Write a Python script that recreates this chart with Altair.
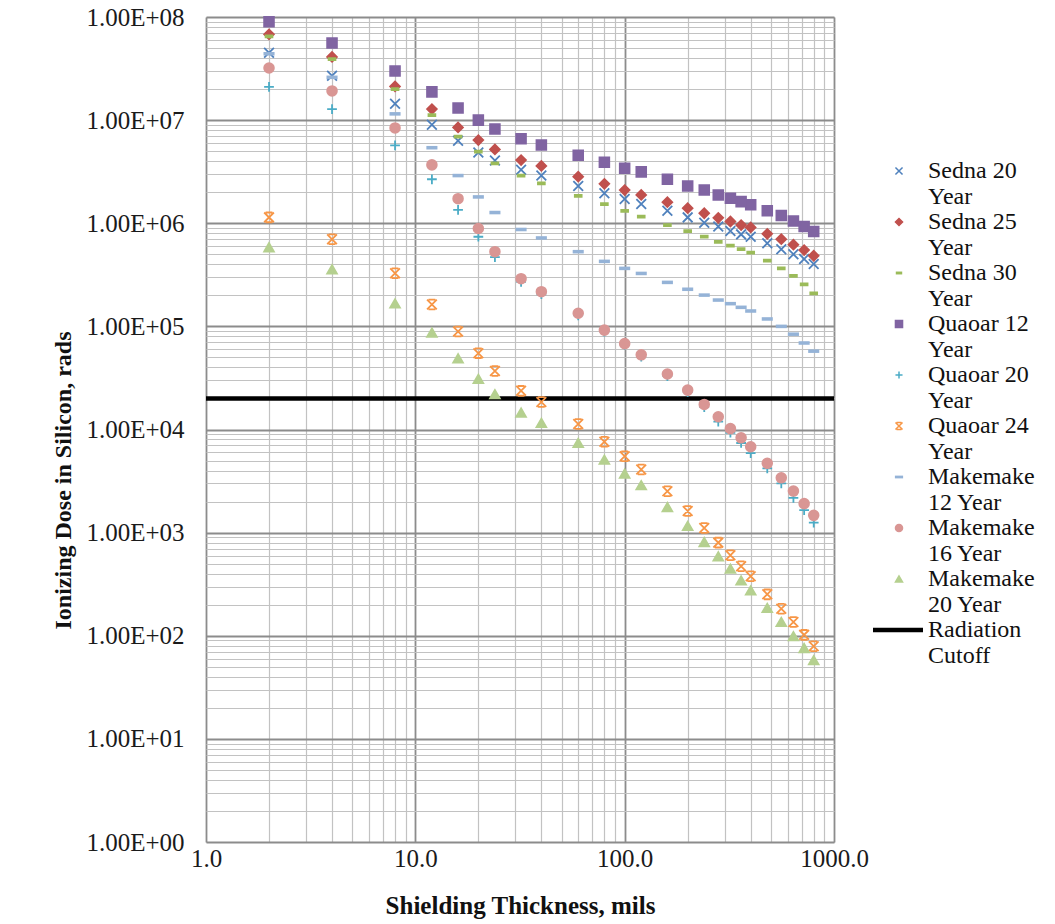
import altair as alt
import pandas as pd

# ---------------- data ----------------
thickness = [2, 4, 8, 12, 16, 20, 24, 32, 40, 60, 80, 100, 120, 160, 200,
             240, 280, 320, 360, 400, 480, 560, 640, 720, 800]

sedna_20 = [4.5e7, 2.7e7, 1.44e7, 9.0e6, 6.3e6, 4.85e6, 4.05e6, 3.3e6, 2.9e6, 2.3e6,
            1.95e6, 1.72e6, 1.54e6, 1.32e6, 1.14e6, 1.01e6, 9.3e5, 8.4e5, 7.8e5, 7.4e5,
            6.4e5, 5.6e5, 5.0e5, 4.5e5, 4.03e5]
sedna_25 = [6.8e7, 4.1e7, 2.12e7, 1.28e7, 8.5e6, 6.4e6, 5.2e6, 4.1e6, 3.6e6, 2.83e6,
            2.41e6, 2.1e6, 1.88e6, 1.6e6, 1.4e6, 1.25e6, 1.13e6, 1.04e6, 9.6e5, 9.1e5,
            7.9e5, 7.0e5, 6.2e5, 5.5e5, 4.84e5]
sedna_30 = [6.5e7, 3.9e7, 2.0e7, 1.12e7, 6.9e6, 4.95e6, 3.8e6, 2.9e6, 2.44e6, 1.84e6,
            1.53e6, 1.32e6, 1.16e6, 9.6e5, 8.4e5, 7.4e5, 6.6e5, 6.06e5, 5.6e5, 5.2e5,
            4.34e5, 3.66e5, 3.08e5, 2.56e5, 2.09e5]
quaoar_12 = [9.0e7, 5.6e7, 3.0e7, 1.88e7, 1.31e7, 1.0e7, 8.2e6, 6.6e6, 5.75e6, 4.56e6,
             3.9e6, 3.42e6, 3.15e6, 2.67e6, 2.3e6, 2.1e6, 1.88e6, 1.75e6, 1.62e6, 1.51e6,
             1.32e6, 1.19e6, 1.05e6, 9.3e5, 8.3e5]
quaoar_20 = [2.1e7, 1.28e7, 5.7e6, 2.67e6, 1.35e6, 7.4e5, 4.7e5, 2.7e5, 2.05e5, 1.28e5,
             8.9e4, 6.6e4, 5.1e4, 3.3e4, 2.3e4, 1.65e4, 1.19e4, 9.3e3, 7.4e3, 5.9e3,
             4.2e3, 3.0e3, 2.17e3, 1.65e3, 1.25e3]
quaoar_24 = [1.14e6, 7.0e5, 3.27e5, 1.63e5, 8.9e4, 5.5e4, 3.7e4, 2.37e4, 1.85e4, 1.13e4,
             7.6e3, 5.5e3, 4.1e3, 2.52e3, 1.62e3, 1.11e3, 800, 603, 471, 377,
             252, 183, 136, 102, 79]
makemake_12 = [4.4e7, 2.6e7, 1.15e7, 5.4e6, 2.9e6, 1.8e6, 1.27e6, 8.7e5, 7.2e5, 5.3e5,
               4.27e5, 3.65e5, 3.26e5, 2.67e5, 2.29e5, 2.01e5, 1.8e5, 1.66e5, 1.53e5, 1.41e5,
               1.18e5, 1.0e5, 8.4e4, 6.9e4, 5.75e4]
makemake_16 = [3.2e7, 1.92e7, 8.4e6, 3.68e6, 1.73e6, 8.9e5, 5.3e5, 2.9e5, 2.17e5, 1.34e5,
               9.2e4, 6.8e4, 5.3e4, 3.45e4, 2.41e4, 1.75e4, 1.33e4, 1.02e4, 8.3e3, 6.8e3,
               4.7e3, 3.4e3, 2.53e3, 1.91e3, 1.47e3]
makemake_20 = [5.85e5, 3.57e5, 1.67e5, 8.7e4, 4.9e4, 3.1e4, 2.2e4, 1.46e4, 1.16e4, 7.4e3,
               5.1e3, 3.74e3, 2.88e3, 1.77e3, 1.16e3, 811, 589, 447, 344, 275,
               186, 136, 99, 76, 58]

radiation_cutoff = [2.0e4]

series_names = ["Sedna 20 Year", "Sedna 25 Year", "Sedna 30 Year",
                "Quaoar 12 Year", "Quaoar 20 Year", "Quaoar 24 Year",
                "Makemake 12 Year", "Makemake 16 Year", "Makemake 20 Year"]
series_values = [sedna_20, sedna_25, sedna_30, quaoar_12, quaoar_20, quaoar_24,
                 makemake_12, makemake_16, makemake_20]

legend_entries = series_names + ["Radiation Cutoff"]
legend_line1 = ["Sedna 20", "Sedna 25", "Sedna 30", "Quaoar 12", "Quaoar 20",
                "Quaoar 24", "Makemake", "Makemake", "Makemake", "Radiation"]
legend_line2 = ["Year", "Year", "Year", "Year", "Year", "Year",
                "12 Year", "16 Year", "20 Year", "Cutoff"]

x_ticks = [m * 10 ** e for e in range(0, 3) for m in range(1, 10)] + [1000]
x_major = [1, 10, 100, 1000]
y_ticks = [m * 10 ** e for e in range(0, 8) for m in range(1, 10)] + [10 ** 8]
y_major = [10 ** e for e in range(0, 9)]

# ---------------- styles ----------------
colors = ["#4F81BD", "#C0504D", "#9BBB59", "#8064A2", "#4BACC6", "#F79646",
          "#95B3D7", "#D99694", "#B5D08F"]
shapes = [
    "M-1,-1L1,1M-1,1L1,-1",                               # x
    "diamond",
    "M-0.7,-0.2L0.7,-0.2L0.7,0.2L-0.7,0.2Z",              # small dash
    "square",
    "M-1,0L1,0M0,-1L0,1",                                 # plus
    "M-1,-1L1,1M-1,1L1,-1M-0.7,-1L0.7,-1M-0.7,1L0.7,1",   # star
    "M-0.95,-0.18L0.95,-0.18L0.95,0.18L-0.95,0.18Z",      # dash
    "circle",
    "triangle-up",
]

rows = []
for name, vals in zip(series_names, series_values):
    for t, v in zip(thickness, vals):
        rows.append({"series": name, "thickness": t, "dose": v})
df = pd.DataFrame(rows)

cut_df = pd.DataFrame({"dose": radiation_cutoff})

legend_df = pd.DataFrame({"series": legend_entries, "line1": legend_line1,
                          "line2": legend_line2})
legend_pts_df = legend_df[legend_df["series"].isin(series_names)]
legend_cut_df = legend_df[legend_df["series"] == "Radiation Cutoff"]

FONT = "Liberation Serif"
W, H = 628, 825

x_major_test = "indexof(%s, datum.value) >= 0" % str(x_major)
y_major_test = "indexof(%s, datum.value) >= 0" % str(y_major)

grid_col_x = {"condition": {"test": x_major_test, "value": "#8c8c8c"}, "value": "#c2c2c2"}
grid_w_x = {"condition": {"test": x_major_test, "value": 1.8}, "value": 1.2}
grid_col_y = {"condition": {"test": y_major_test, "value": "#8c8c8c"}, "value": "#c2c2c2"}
grid_w_y = {"condition": {"test": y_major_test, "value": 1.8}, "value": 1.2}

x_axis = alt.Axis(
    values=x_ticks,
    labelExpr=x_major_test + " ? format(datum.value, '.1f') : ''",
    ticks=False, domain=False, grid=True,
    gridColor=grid_col_x, gridWidth=grid_w_x,
    labelFont=FONT, labelFontSize=25, labelColor="#1a1a1a",
    labelPadding=4, labelFlush=False, labelOverlap=False,
    title="Shielding Thickness, mils", titleFont=FONT, titleFontSize=25,
    titleFontWeight="bold", titleColor="#111111", titleY=63, titleBaseline="middle",
)
y_axis = alt.Axis(
    values=y_ticks,
    labelExpr=y_major_test + " ? '1.00E+0' + round(log(datum.value) / LN10) : ''",
    ticks=False, domain=False, grid=True,
    gridColor=grid_col_y, gridWidth=grid_w_y,
    labelFont=FONT, labelFontSize=25, labelColor="#1a1a1a",
    labelPadding=22, labelFlush=False, labelOverlap=False,
    title="Ionizing Dose in Silicon, rads", titleFont=FONT, titleFontSize=24,
    titleFontWeight="bold", titleColor="#111111", titleAngle=270,
    titleX=-143, titleY=463, titleBaseline="middle",
)

x_scale = alt.Scale(type="log", domain=[1, 1000])
y_scale = alt.Scale(type="log", domain=[1, 1e8])
shape_scale = alt.Scale(domain=series_names, range=shapes)
color_scale = alt.Scale(domain=series_names, range=colors)

cut_rule = alt.Chart(cut_df).mark_rule(color="black", strokeWidth=4.5).encode(
    y=alt.Y("dose:Q", scale=y_scale, axis=y_axis),
)

points = alt.Chart(df).mark_point(filled=True, size=95, strokeWidth=1.8, opacity=1).encode(
    x=alt.X("thickness:Q", scale=x_scale, axis=x_axis),
    y=alt.Y("dose:Q", scale=y_scale, axis=y_axis),
    shape=alt.Shape("series:N", scale=shape_scale, legend=None),
    fill=alt.Fill("series:N", scale=color_scale, legend=None),
    stroke=alt.Stroke("series:N", scale=color_scale, legend=None),
)

main = alt.layer(cut_rule, points)

# ---------------- legend (drawn as its own layers) ----------------
leg_y = alt.Y("series:N", axis=None,
              scale=alt.Scale(type="point", domain=legend_entries, range=[154, 613], padding=0))

leg_points = alt.Chart(legend_pts_df).mark_point(
    filled=True, size=50, strokeWidth=1.5, opacity=1).encode(
    x=alt.value(693), y=leg_y,
    shape=alt.Shape("series:N", scale=shape_scale, legend=None),
    fill=alt.Fill("series:N", scale=color_scale, legend=None),
    stroke=alt.Stroke("series:N", scale=color_scale, legend=None),
)
leg_rule = alt.Chart(legend_cut_df).mark_rule(color="black", strokeWidth=4.5).encode(
    x=alt.value(667), x2=alt.value(717), y=leg_y,
)
leg_text1 = alt.Chart(legend_df).mark_text(
    align="left", baseline="middle", font=FONT, fontSize=24, color="#111111").encode(
    x=alt.value(722), y=leg_y, text="line1:N",
)
leg_text2 = alt.Chart(legend_df).mark_text(
    align="left", baseline="middle", font=FONT, fontSize=24, color="#111111", dy=25.5).encode(
    x=alt.value(722), y=leg_y, text="line2:N",
)

legend = alt.layer(leg_rule, leg_points, leg_text1, leg_text2)

chart = alt.layer(main, legend).resolve_scale(y="independent").properties(
    width=W, height=H,
    autosize=alt.AutoSizeParams(type="none"),
    padding={"left": 206, "top": 17, "right": 221, "bottom": 82},
).configure_view(stroke="#8c8c8c", strokeWidth=1.8).configure(background="white")

chart.save("out.html", embed_options={"renderer": "svg", "actions": False})
